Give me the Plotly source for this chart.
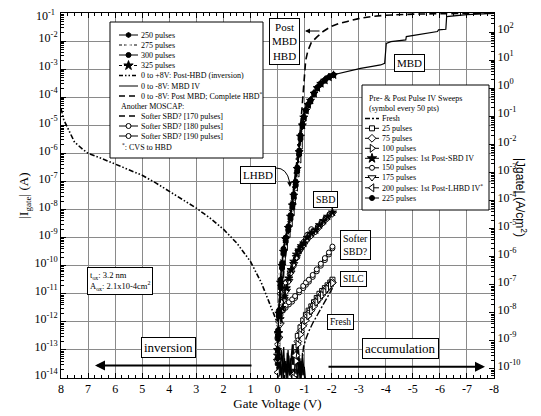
import math
import plotly.graph_objects as go

# ---------------- data: gate voltage (V) and log10(|Igate| / A) ----------------
A_OX_CM2 = 2.1e-4

inv_v = [8.0, 7.9, 7.7, 7.5, 7.2, 7.0, 6.5, 6.0, 5.5, 5.0, 4.5, 4.0, 3.5, 3.0, 2.5, 2.0, 1.5, 1.0, 0.6, 0.3, 0.1, 0.0]
inv_log = [-4.4, -4.8, -5.2, -5.6, -5.85, -6.0, -6.18, -6.38, -6.57, -6.78, -7.05, -7.35, -7.65, -7.95, -8.3, -8.7,
           -9.2, -9.85, -10.6, -11.3, -11.8, -12.05]

fresh_v = [-0.85, -0.9, -0.96, -1.05, -1.15, -1.3, -1.45, -1.6, -1.75, -1.9, -2.03]
fresh_log = [-14.0, -13.4, -12.9, -12.6, -12.35, -12.05, -11.8, -11.55, -11.3, -11.05, -10.8]

silc_v = [-0.6, -0.68, -0.75, -0.85, -0.95, -1.05, -1.15, -1.25, -1.35, -1.45, -1.55, -1.65, -1.75, -1.85, -1.95, -2.03]
p25_log = [-13.6, -12.9, -12.5, -12.2, -11.95, -11.75, -11.6, -11.45, -11.3, -11.15, -11.0, -10.9, -10.8, -10.7, -10.6, -10.5]
p75_log = [-13.9, -13.2, -12.7, -12.35, -12.1, -11.85, -11.7, -11.55, -11.4, -11.25, -11.12, -11.0, -10.88, -10.78, -10.68, -10.6]
p100_log = [-14.0, -13.4, -12.8, -12.45, -12.15, -11.95, -11.78, -11.6, -11.45, -11.3, -11.18, -11.05, -10.93, -10.82, -10.72, -10.62]

sbd_v = [0.0, -0.05, -0.1, -0.17, -0.25, -0.33, -0.42, -0.5, -0.6, -0.7, -0.79, -0.88, -0.97, -1.1, -1.25, -1.41, -1.55, -1.7, -1.85, -2.03]
p125_log = [-13.0, -12.4, -11.9, -11.5, -11.1, -10.8, -10.45, -10.15, -9.85, -9.6, -9.45, -9.3, -9.2, -9.0, -8.85, -8.73,
            -8.55, -8.4, -8.25, -8.1]
p175_log = [-13.4, -12.6, -12.1, -11.6, -11.2, -10.9, -10.55, -10.25, -9.95, -9.7, -9.52, -9.38, -9.26, -9.08, -8.92, -8.78,
            -8.62, -8.46, -8.3, -8.15]

p150_v = [0.0, -0.05, -0.15, -0.3, -0.45, -0.6, -0.73, -0.85, -0.97, -1.1, -1.25]
p150_log = [-12.8, -11.7, -11.0, -10.6, -10.3, -10.0, -9.7, -9.4, -9.15, -8.9, -8.7]

soft_v = [0.0, -0.05, -0.11, -0.2, -0.3, -0.42, -0.54, -0.65, -0.8, -0.95, -1.05, -1.16, -1.3, -1.45, -1.6, -1.75, -1.9, -2.03]
p180_log = [-12.6, -12.1, -11.75, -11.6, -11.5, -11.38, -11.28, -11.15, -10.95, -10.8, -10.68, -10.57, -10.4, -10.2, -10.0,
            -9.8, -9.6, -9.38]
p190_log = [-12.4, -11.95, -11.65, -11.52, -11.42, -11.3, -11.2, -11.08, -10.88, -10.72, -10.6, -10.5, -10.33, -10.13, -9.93,
            -9.73, -9.53, -9.32]
p170_v = [0.0, -0.1, -0.2, -0.3, -0.4, -0.5, -0.6]
p170_log = [-12.5, -11.2, -10.3, -9.6, -9.0, -8.5, -8.1]

steep_v = [0.0, -0.02, -0.05, -0.11, -0.17, -0.22, -0.3, -0.4, -0.48, -0.55, -0.6, -0.67, -0.73, -0.8, -0.85, -0.92, -0.97,
           -1.05, -1.13, -1.22, -1.35, -1.47, -1.6, -1.75, -1.9, -2.07]
p200_log = [-13.8, -12.8, -12.0, -11.0, -10.3, -9.8, -9.3, -8.85, -8.45, -8.05, -7.7, -7.2, -6.7, -6.2, -5.7]
p225_log = [-13.3, -12.5, -11.75, -10.7, -10.05, -9.55, -9.1, -8.7, -8.3, -7.9, -7.55, -7.1, -6.6, -6.0, -5.45, -5.0, -4.75,
            -4.48, -4.28, -4.13]
p250_log = [-13.5, -12.6, -11.8, -10.8, -10.1, -9.6, -9.15, -8.75, -8.35, -7.95, -7.6, -7.15, -6.65, -6.05, -5.5, -5.05,
            -4.8, -4.5, -4.3, -4.15, -3.9, -3.7, -3.55, -3.42, -3.3, -3.22]
p275_log = [-12.8, -12.1, -11.4, -10.3, -9.75, -9.3, -8.9, -8.5, -8.1, -7.7, -7.35, -6.9, -6.4, -5.8, -5.25, -4.9, -4.65,
            -4.42, -4.22, -4.07, -3.82, -3.62, -3.47, -3.35, -3.25, -3.18]
p300_log = [-13.0, -12.3, -11.6, -10.5, -9.9, -9.4, -9.0, -8.6, -8.2, -7.8, -7.45, -7.0, -6.5, -5.9, -5.35, -4.95, -4.7,
            -4.45, -4.25, -4.1, -3.85, -3.65, -3.5, -3.38, -3.28, -3.2]
p325_log = [-13.2, -12.4, -11.7, -10.6, -10.0, -9.5, -9.05, -8.65, -8.25, -7.85, -7.5, -7.05, -6.55, -5.95, -5.4, -5.0,
            -4.72, -4.47, -4.27, -4.12, -3.87, -3.67, -3.52, -3.4, -3.29, -3.21]

mbd_v = [0.0, -0.02, -0.05, -0.11, -0.17, -0.22, -0.3, -0.4, -0.48, -0.55, -0.6, -0.67, -0.73, -0.8, -0.85, -0.92, -0.97,
         -1.05, -1.13, -1.22, -1.35, -1.47, -1.6, -1.75, -1.9, -2.07, -2.5, -3.07, -3.5, -3.81, -3.96, -4.02, -4.19, -4.74,
         -4.76, -5.3, -5.91, -5.95, -6.22, -6.25, -7.0, -8.0]
mbd_log = [-12.9, -12.2, -11.5, -10.4, -9.85, -9.35, -8.95, -8.55, -8.15, -7.75, -7.4, -6.95, -6.45, -5.85, -5.3, -4.92,
           -4.68, -4.43, -4.23, -4.08, -3.83, -3.63, -3.48, -3.36, -3.27, -3.2, -3.1, -2.97, -2.9, -2.85, -2.79, -2.08,
           -2.02, -1.96, -1.84, -1.76, -1.66, -1.6, -1.58, -1.13, -1.06, -1.01]

pmbd_v = [0.0, -0.3, -0.55, -0.7, -0.8, -0.88, -0.93, -0.98, -1.04, -1.12, -1.25, -1.47, -1.7, -1.96, -2.25, -2.58, -3.0,
          -3.44, -4.0, -5.0, -6.0, -7.0, -8.0]
pmbd_log = [-12.0, -9.6, -7.6, -6.5, -5.6, -4.7, -4.0, -3.3, -2.7, -2.35, -2.05, -1.84, -1.65, -1.49, -1.38, -1.3, -1.2,
            -1.13, -1.08, -1.04, -1.02, -1.01, -1.0]

noise1_v = [0.0, -0.04, -0.08, -0.12, -0.16, -0.2, -0.24, -0.28, -0.32, -0.36, -0.4, -0.44, -0.48, -0.52, -0.56, -0.6,
            -0.64, -0.68, -0.72, -0.76, -0.8, -0.84, -0.88, -0.92, -0.96, -1.0]
noise1_log = [-14.0, -13.3, -13.9, -13.5, -14.0, -13.2, -13.8, -13.4, -14.0, -13.1, -13.7, -13.9, -13.3, -14.0, -13.5,
              -13.0, -13.8, -14.0, -13.2, -13.6, -14.0, -13.4, -13.9, -13.1, -13.7, -14.0]
noise2_v = [0.03, -0.02, -0.06, -0.1, -0.14, -0.18, -0.22, -0.26, -0.3, -0.34, -0.38, -0.42, -0.46, -0.5, -0.54, -0.58,
            -0.62, -0.66, -0.7, -0.74, -0.78, -0.82, -0.86, -0.9, -0.94]
noise2_log = [-13.6, -14.0, -13.4, -13.9, -13.0, -13.7, -14.0, -13.3, -13.8, -13.5, -14.0, -13.2, -13.9, -13.4, -13.1,
              -13.8, -14.0, -13.3, -13.7, -14.0, -13.0, -13.6, -14.0, -13.4, -13.9]
noise3_v = [0.01, -0.03, -0.07, -0.11, -0.15, -0.19, -0.23, -0.27, -0.31, -0.35, -0.39, -0.43, -0.47, -0.51, -0.55,
            -0.59, -0.63, -0.67, -0.71, -0.75, -0.79, -0.83, -0.87, -0.91, -0.95, -0.99, -1.03]
noise3_log = [-13.2, -13.9, -12.9, -13.6, -14.0, -13.3, -12.9, -13.8, -13.4, -14.0, -13.0, -13.6, -13.9, -13.2, -12.8,
              -13.7, -14.0, -13.1, -13.5, -12.9, -13.8, -13.3, -14.0, -13.5, -13.9, -13.6, -14.0]

# ---------------- layout constants ----------------
W, H = 541, 416
BODY = 8                      # default page margin of the html body
SX0, SX1 = 61, 494            # plot area on screen (x)
SY0, SY1 = 13, 378            # plot area on screen (y)
ML = SX0 - BODY
MT = SY0 - BODY
MR = W - (SX1 - BODY)
MB = H - (SY1 - BODY)
SERIF = "Liberation Serif"
SANS = "Liberation Sans"
GRID = "#8a8a8a"

fig = go.Figure()


def to_amp(logs):
    return [10.0 ** v for v in logs]


def add_curve(v, lg, dash="solid", width=1.0, symbol=None, fill="white", size=5):
    kw = dict(x=v, y=to_amp(lg), mode="lines", line=dict(color="black", width=width, dash=dash),
              hoverinfo="skip", showlegend=False)
    if symbol:
        kw["mode"] = "lines+markers"
        kw["marker"] = dict(symbol=symbol, size=size, color=fill, line=dict(color="black", width=1))
    fig.add_trace(go.Scatter(**kw))


DASHDOTDOT = "5px,2px,1.5px,2px,1.5px,2px"
DASHDOT = "7px,2px,2px,2px"

# noise floor
add_curve(noise1_v, noise1_log, width=1.2)
add_curve(noise2_v, noise2_log, width=1.2)
add_curve(noise3_v, noise3_log, width=1.2)

# curves
add_curve(inv_v, inv_log, dash=DASHDOTDOT, width=1.6)
add_curve(fresh_v, fresh_log, dash=DASHDOT, width=1.4)
add_curve(silc_v, p25_log, symbol="square", size=5)
add_curve(silc_v, p75_log, symbol="diamond", size=6)
add_curve(silc_v, p100_log, symbol="triangle-right", size=7)
add_curve(soft_v, p180_log, symbol="circle", size=5)
add_curve(soft_v, p190_log, symbol="circle", size=5)
add_curve(p170_v, p170_log, dash="4px,3px", width=1.2)
add_curve(p150_v, p150_log, symbol="circle", size=5)
add_curve(sbd_v, p175_log, symbol="triangle-down", size=7)
add_curve(sbd_v, p125_log, symbol="star", fill="black", size=6)
add_curve(steep_v[:len(p200_log)], p200_log, symbol="triangle-left", size=7)
add_curve(steep_v[:len(p225_log)], p225_log, symbol="circle", fill="black", size=5)
add_curve(steep_v, p250_log, symbol="hexagon", fill="black", size=5)
add_curve(steep_v, p275_log, dash="4px,2px", symbol="asterisk-open", size=5)
add_curve(steep_v, p300_log, symbol="circle", fill="black", size=5)
add_curve(steep_v, p325_log, dash="4px,2px", symbol="star", fill="black", size=6)
add_curve(mbd_v, mbd_log, width=1.2)
add_curve(pmbd_v, pmbd_log, dash="7px,4px", width=1.6)

# the Fresh sweep expressed as current density on the right-hand axis (transparent; it only carries that axis)
fig.add_trace(go.Scatter(x=fresh_v, y=[i / A_OX_CM2 for i in to_amp(fresh_log)], yaxis="y2", mode="lines",
                         line=dict(width=0, color="rgba(0,0,0,0)"), hoverinfo="skip", showlegend=False))


# ---------------- screen-space helpers (legends, labels) ----------------
def px_trace(x, y, **kw):
    fig.add_trace(go.Scatter(x=x, y=y, xaxis="x3", yaxis="y3", hoverinfo="skip", showlegend=False, **kw))


def box(x0, y0, x1, y1):
    px_trace([x0, x1, x1, x0, x0], [y0, y0, y1, y1, y0], mode="lines", fill="toself", fillcolor="white",
             line=dict(color="black", width=1))


def glyph(xa, xb, y, dash="solid", width=1.0, symbol=None, fill="white", size=5):
    px_trace([xa, xb], [y, y], mode="lines", line=dict(color="black", width=width, dash=dash))
    if symbol:
        px_trace([(xa + xb) / 2.0], [y], mode="markers",
                 marker=dict(symbol=symbol, size=size, color=fill, line=dict(color="black", width=1)))


def label(x, y, text, size=8, xanchor="left", boxed=False, family=SERIF, **kw):
    extra = dict(bgcolor="white", bordercolor="black", borderwidth=1, borderpad=2) if boxed else {}
    fig.add_annotation(x=x, y=y, xref="x3", yref="y3", text=text, showarrow=False, xanchor=xanchor,
                       yanchor="middle", font=dict(family=family, size=size, color="black"), **extra, **kw)


def arrow(x_head, y_head, x_tail, y_tail, width=1.0, head=2, size=1.0):
    fig.add_annotation(x=x_head, y=y_head, xref="x3", yref="y3", ax=x_tail, ay=y_tail, axref="x3", ayref="y3",
                       text="", showarrow=True, arrowhead=head, arrowsize=size, arrowwidth=width,
                       arrowcolor="black")


# legend 1
box(110, 22, 263, 158)
L1 = [
    (35, "250 pulses", dict(symbol="hexagon", fill="black")),
    (45, "275 pulses", dict(dash="3px,2px", symbol="asterisk-open")),
    (55, "300 pulses", dict(symbol="circle", fill="black")),
    (65.5, "325 pulses", dict(dash="3px,2px", symbol="star", fill="black", size=7)),
    (75.5, "0 to +8V: Post-HBD (inversion)", dict(dash="4px,2px,1.5px,2px,1.5px,2px", width=1.5)),
    (86, "0 to -8V: MBD IV", dict()),
    (96, "0 to -8V: Post MBD; Complete HBD<sup>*</sup>", dict(dash="6px,4px", width=1.5)),
    (116, "Softer SBD? [170 pulses]", dict(dash="6px,4px", width=1.3)),
    (126, "Softer SBD? [180 pulses]", dict(symbol="circle")),
    (136, "Softer SBD? [190 pulses]", dict(symbol="circle")),
]
for y, txt, st in L1:
    glyph(119, 138, y, **st)
    label(139, y, txt)
label(119, 106, "Another MOSCAP:")
label(120, 147, "<sup>*</sup>: CVS to HBD")

# legend 2
box(362, 85, 489, 210)
label(367, 98.5, "Pre- &amp; Post Pulse IV Sweeps")
label(367, 108.5, "(symbol every 50 pts)")
L2 = [
    (118.5, "Fresh", dict(dash="5px,2px,2px,2px", width=1.3)),
    (128.3, "25 pulses", dict(symbol="square")),
    (138.3, "75 pulses", dict(symbol="diamond", size=6)),
    (148.3, "100 pulses", dict(symbol="triangle-right", size=7)),
    (158.3, "125 pulses: 1st Post-SBD IV", dict(symbol="star", fill="black", size=7)),
    (167.8, "150 pulses", dict(symbol="circle")),
    (177.5, "175 pulses", dict(symbol="triangle-down", size=7)),
    (187.8, "200 pulses: 1st Post-LHBD IV<sup>*</sup>", dict(symbol="triangle-left", size=7)),
    (198, "225 pulses", dict(symbol="circle", fill="black")),
]
for y, txt, st in L2:
    glyph(365, 379, y, **st)
    label(380, y, txt)

# boxed labels
label(284, 41.5, "Post<br>MBD<br>HBD", size=11, xanchor="center", boxed=True)
label(409.5, 63, "MBD", size=11, xanchor="center", boxed=True)
label(257.5, 175, "LHBD", size=11, xanchor="center", boxed=True)
label(325.5, 199, "SBD", size=10, xanchor="center", boxed=True)
label(355, 245, "Softer<br>SBD?", size=10, xanchor="center", boxed=True)
label(353.5, 279, "SILC", size=9.5, xanchor="center", boxed=True)
label(340.5, 321.5, "Fresh", size=9.5, xanchor="center", boxed=True)
label(168.5, 347, "inversion", size=13, xanchor="center", boxed=True)
label(400.5, 348.5, "accumulation", size=13, xanchor="center", boxed=True)
label(87, 280.5, "t<sub>ox</sub>: 3.2 nm<br>A<sub>ox</sub>: 2.1x10-4cm<sup>2</sup>", size=8.5, boxed=True,
      align="left")

# arrows
arrow(95, 365.5, 253, 365.5, width=2.0, head=2, size=1.0)
arrow(485, 366.7, 327, 366.7, width=2.0, head=2, size=1.0)
arrow(305, 31, 321, 31, width=1.0, head=2, size=1.0)
# curved pointer from the LHBD box to the bundle
fig.add_shape(type="path", xref="x3", yref="y3", path="M 276,168 Q 287,168 289.6,182",
              line=dict(color="black", width=1), layer="above")
arrow(290, 187, 289.6, 181, width=1.0, head=2, size=1.0)

# right-hand axis title
fig.add_annotation(x=(531 - SX0) / (SX1 - SX0), y=(SY1 - 197) / (SY1 - SY0), xref="paper", yref="paper",
                   text="|Jgate| (A/cm<sup>2</sup>)", textangle=90, showarrow=False,
                   font=dict(family=SANS, size=12, color="black"))

# ---------------- axes ----------------
I_exp = list(range(-14, 0))
I_major = [10.0 ** e for e in I_exp]
# the top label (10^-1) is placed as an annotation so that its superscript stays inside the page
I_text = ["10<sup>%d</sup>" % e if e != -1 else "" for e in I_exp]
fig.add_annotation(x=(56 - SX0) / (SX1 - SX0), y=(SY1 - 7.5) / (SY1 - SY0), xref="paper", yref="paper",
                   xanchor="right", yanchor="top", text="10<sup>-1</sup>", showarrow=False, borderpad=0,
                   font=dict(family=SERIF, size=12, color="black"))
I_minor = [k * 10.0 ** e for e in range(-14, -1) for k in range(2, 10)]
J_lo = math.log10(1e-14 / A_OX_CM2)
J_hi = math.log10(1e-1 / A_OX_CM2)
J_major = [10.0 ** e for e in range(-10, 3)]
J_minor = [k * 10.0 ** e for e in range(-11, 3) for k in range(2, 10)
           if J_lo <= math.log10(k * 10.0 ** e) <= J_hi]
x_major = list(range(8, -9, -1))
x_minor = [v / 4.0 for v in range(-32, 33) if v % 4 != 0]

common = dict(showline=True, linecolor="black", linewidth=1, ticks="inside", ticklen=5, tickcolor="black",
              zeroline=False, automargin=False, ticklabeloverflow="allow",
              tickfont=dict(family=SERIF, size=12, color="black"))

fig.update_layout(
    width=W, height=H, margin=dict(l=ML, r=MR, t=MT, b=MB, pad=0, autoexpand=False),
    paper_bgcolor="white", plot_bgcolor="white",
    font=dict(family=SERIF, size=12, color="black"),
    xaxis=dict(range=[8, -8], tickmode="array", tickvals=x_major, ticktext=[str(v) for v in x_major],
               mirror="ticks", showgrid=True, gridcolor=GRID, gridwidth=1,
               minor=dict(tickmode="array", tickvals=x_minor, ticks="inside", ticklen=3, tickcolor="black",
                          showgrid=False),
               title=dict(text="Gate Voltage (V)", font=dict(family=SERIF, size=13), standoff=1), **common),
    yaxis=dict(type="log", range=[-14, -1], tickmode="array", tickvals=I_major, ticktext=I_text,
               showgrid=True, gridcolor=GRID, gridwidth=1, ticklabelshift=-3,
               minor=dict(tickmode="array", tickvals=I_minor, ticks="inside", ticklen=3,
                          tickcolor="black", showgrid=False),
               title=dict(text="|I<sub>gate</sub>| (A)", font=dict(family=SERIF, size=13), standoff=2), **common),
    yaxis2=dict(type="log", overlaying="y", side="right", anchor="x", range=[J_lo, J_hi], tickmode="array",
                tickvals=J_major, ticktext=["10<sup>%d</sup>" % e for e in range(-10, 3)], showgrid=False,
                ticklabelshift=-3,
                minor=dict(tickmode="array", tickvals=J_minor, ticks="inside", ticklen=3, tickcolor="black",
                           showgrid=False), **common),
    xaxis3=dict(overlaying="x", anchor="y3", range=[SX0, SX1], visible=False),
    yaxis3=dict(overlaying="y", anchor="x3", range=[SY1, SY0], visible=False),
)

fig.write_html("out.html")
